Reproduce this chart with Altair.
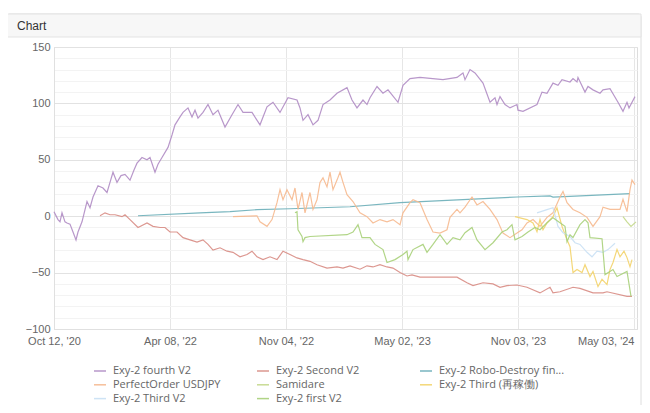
import json
import altair as alt
import pandas as pd

# ---------------- data ----------------
series_names = [
    "Exy-2 fourth V2", "Exy-2 Second V2", "Exy-2 Robo-Destroy fin...",
    "PerfectOrder USDJPY", "Samidare", "Exy-2 Third (再稼働)",
    "Exy-2 Third V2", "Exy-2 first V2",
]
series_colors = ["#b08cc4", "#d88c84", "#6aaeb8", "#f6b98f",
                 "#c3d88a", "#f3d36a", "#c9e0f4", "#a8d07a"]

x_tick_values = [0, 116, 232, 348, 464, 580]
x_tick_labels = ["Oct 12, '20", "Apr 08, '22", "Nov 04, '22",
                 "May 02, '23", "Nov 03, '23", "May 03, '24"]

fourth_x = [0, 4, 6, 8, 11, 13, 16, 19, 22, 24, 28, 33, 36, 39, 44, 49, 53, 56, 59, 63,
            67, 71, 76, 80, 83, 88, 93, 96, 101, 104, 108, 114, 118, 121, 126, 129, 134,
            138, 141, 144, 149, 154, 159, 164, 171, 178, 184, 189, 198, 206, 213, 219,
            226, 234, 243, 246, 249, 254, 259, 264, 269, 276, 283, 293, 298, 303, 309,
            313, 316, 323, 329, 334, 344, 349, 356, 366, 389, 403, 409, 411, 416, 421,
            429, 436, 441, 443, 446, 451, 456, 463, 464, 469, 483, 488, 493, 499, 504,
            508, 516, 519, 523, 524, 531, 534, 539, 546, 549, 556, 564, 569, 573, 575, 581]
fourth_y = [4, -3, -5, 3, -5, -6, -7, -14, -21, -14, -5, 13, 7.5, 17, 27, 25, 21, 30, 39, 30,
            36, 37, 32, 41, 47, 52, 50, 52, 39, 46, 52, 61, 72, 81, 88, 92, 96,
            88, 94, 87, 92, 99, 90, 94, 79, 90, 99, 92, 92, 81, 97, 101,
            92, 105, 103, 96, 85, 90, 81, 85, 99, 103, 109, 114, 103, 96, 103,
            99, 105, 115, 109, 112, 101, 116, 122, 123, 121, 123, 127, 121, 130, 127,
            118, 101, 105, 99, 106, 99, 96, 99, 94, 93, 99, 110, 109, 118, 116,
            121, 119, 122, 119, 123, 110, 115, 112, 109, 112, 113, 101, 93, 101, 96, 106]

second_x = [46, 51, 56, 61, 68, 71, 76, 84, 93, 99, 106, 111, 116, 123, 129, 136, 143, 149,
            154, 159, 166, 173, 179, 186, 193, 198, 203, 209, 216, 223, 229, 236, 243,
            249, 256, 263, 273, 283, 289, 296, 306, 313, 319, 326, 333, 339, 346, 353,
            358, 366, 403, 413, 419, 429, 439, 446, 453, 463, 473, 486, 496, 499, 506,
            519, 526, 539, 549, 553, 573, 578]
second_y = [0.4, 3, 1.3, 1.3, -0.4, 1.3, -3, -10, -6, -9, -10, -10, -14, -14, -19, -21, -23,
            -21, -25, -30, -28, -31, -32, -36, -34, -31, -36, -38.5, -36, -38.5, -31, -34,
            -37, -38.5, -40, -43, -46, -45, -46, -44, -47, -44, -45, -43, -45, -46, -50,
            -53, -52, -54, -54, -59, -61.5, -59, -60, -63, -61.5, -61, -63, -68, -63, -68,
            -67, -63, -64, -68, -68, -67, -71, -71]

robo_x = [84, 146, 176, 203, 236, 296, 346, 463, 496, 499, 576]
robo_y = [0.4, 3, 4, 5.8, 6.6, 8.4, 12, 17, 18, 17, 20]

perfect_x = [179, 203, 206, 213, 218, 223, 226, 229, 233, 238, 241, 244, 248, 251, 256, 259,
             263, 266, 269, 273, 276, 279, 283, 286, 289, 293, 299, 306, 313, 319, 326, 333,
             339, 346, 349, 356, 359, 366, 373, 379, 386, 393, 396, 403, 406, 411, 418, 423,
             429, 436, 443, 449, 456, 463, 468, 473, 479, 486, 493, 499, 506, 509, 513, 519,
             526, 533, 539, 546, 549, 556, 566, 569, 573, 576, 578, 581]
perfect_y = [-0.4, 0.4, -5, -9, -3, 12, 23.5, 14.6, 23.5, 14.6, 25, 6, 21, 3, 21, 6,
             14.6, 30, 34, 26, 39, 23.5, 32, 39, 30, 19, 13, 3, -0.4, -6, -3, -5,
             -3, -7.5, 3, 12, 14.6, 12, -3, -14, -15, -12, -1, 6, 3, 8, 17, 10,
             13, 6, -3, -15, -19, -15, -12, -6, -3, -9, -1, 3, 17, 22, 12, 6,
             3, -1, -9, -0.4, 8, 6, 6, 15, 4, 23.5, 32, 28]

samidare_x = [569, 573, 577, 582]
samidare_y = [-0.4, -5, -9, -5]

third_x = [461, 473, 479, 483, 486, 489, 493, 499, 503, 508, 513, 516, 519, 523, 528, 531,
           536, 539, 544, 548, 553, 556, 559, 563, 566, 570, 573, 576, 578]
third_y = [-0.4, -3, -6, -13.7, -3, -12, -6, -0.4, 7.5, -9, -20.8, -27, -50, -47.3, -50, -43,
           -53.5, -49, -62.4, -56, -60.6, -47.3, -41, -29.6, -36, -31, -36.7, -44.7, -38.5]

third_v2_x = [483, 493, 499, 504, 509, 516, 521, 526, 533, 538, 543, 549, 554, 561]
third_v2_y = [3, 5.8, 7.5, -9, -14.6, -18, -23.5, -25, -32, -36, -31, -32, -29.6, -24]

first_x = [241, 243, 244, 248, 249, 251, 256, 293, 299, 304, 308, 316, 321, 329, 333, 341,
           349, 353, 354, 359, 369, 373, 379, 386, 393, 399, 406, 411, 418, 423, 431, 439,
           448, 453, 458, 461, 468, 474, 481, 486, 493, 499, 506, 511, 513, 516, 519, 526,
           531, 534, 536, 548, 551, 559, 563, 573, 577]
first_y = [3, 4, -12, -18, -22.6, -19, -18, -16.4, -14, -7.5, -19, -19, -25, -29.6, -41, -38.5,
           -34, -31, -38.5, -29.6, -25, -32, -25, -16.4, -25, -19, -21, -14.6, -10, -21, -29.6,
           -23.5, -14, -12, -7.5, -21, -18, -14, -10, -12, -5.8, -1.3, -5.8, -9, -22.6, -16.4,
           -19, -7.5, -3, -5.8, -19, -20, -51.8, -47.3, -53.5, -49, -71]

series_xy = [
    (fourth_x, fourth_y), (second_x, second_y), (robo_x, robo_y),
    (perfect_x, perfect_y), (samidare_x, samidare_y), (third_x, third_y),
    (third_v2_x, third_v2_y), (first_x, first_y),
]

rows = []
for name, (xs, ys) in zip(series_names, series_xy):
    for xv, yv in zip(xs, ys):
        rows.append({"series": name, "idx": xv, "val": yv})
df = pd.DataFrame(rows)

# ---------------- chart ----------------
W, H = 583, 282
label_expr = "{}[indexof({}, datum.value)]".format(
    json.dumps(x_tick_labels, ensure_ascii=False), json.dumps(x_tick_values))

one = pd.DataFrame({"a": [0]})

card = alt.Chart(one).mark_rect(
    fillOpacity=0, stroke="#dedede", strokeWidth=1, cornerRadius=3
).encode(x=alt.value(-47), x2=alt.value(W + 4), y=alt.value(-33), y2=alt.value(H + 120))

header = alt.Chart(one).mark_rect(
    fill="#f7f7f7", stroke="#e3e3e3", strokeWidth=1
).encode(x=alt.value(-47), x2=alt.value(W + 4), y=alt.value(-33), y2=alt.value(-10))

header_text = alt.Chart(one).mark_text(
    text="Chart", align="left", baseline="middle", font="Liberation Sans",
    fontSize=12, color="#333333"
).encode(x=alt.value(-37), y=alt.value(-21))

lines = alt.Chart(df).mark_line(strokeWidth=1.2, opacity=0.9).encode(
    x=alt.X("idx:Q", scale=alt.Scale(domain=[0, W], nice=False, zero=False),
            axis=alt.Axis(values=x_tick_values, labelExpr=label_expr, title=None,
                          grid=True, gridColor="#e6e6e6", domainColor="#e0e0e0",
                          ticks=False, labelPadding=6, labelFontSize=11,
                          labelColor="#666666", labelFont="Liberation Sans",
                          labelAlign={"condition": {"test": "datum.value == 580", "value": "right"},
                                      "value": "center"},
                          labelOverlap=False)),
    y=alt.Y("val:Q", scale=alt.Scale(domain=[-100, 150], nice=False),
            axis=alt.Axis(values=list(range(-100, 151, 10)), title=None,
                          labelExpr="datum.value % 50 == 0 ? datum.label : ''",
                          gridColor={"condition": {"test": "datum.value % 50 == 0", "value": "#e2e2e2"},
                                     "value": "#f3f3f3"},
                          domainColor="#e0e0e0", ticks=False, labelPadding=4,
                          labelFontSize=11, labelColor="#666666",
                          labelFont="Liberation Sans", labelOverlap=False)),
    color=alt.Color("series:N",
                    scale=alt.Scale(domain=series_names, range=series_colors),
                    legend=alt.Legend(orient="none", legendX=39, legendY=317,
                                      direction="horizontal",
                                      columns=3, title=None, symbolType="stroke",
                                      symbolSize=144, symbolStrokeWidth=1.5,
                                      labelFont="Open Sans", labelFontSize=11,
                                      labelColor="#666666", labelLimit=135,
                                      labelOffset=6, columnPadding=15, rowPadding=1.8,
                                      gridAlign="all")),
)

chart = alt.layer(card, header, header_text, lines).properties(
    width=W, height=H,
    autosize=alt.AutoSizeParams(type="none"),
    padding={"left": 46, "top": 39, "right": 5, "bottom": 76},
).configure_view(stroke=None).configure(background="white")

chart.save("out.html", embed_options={"renderer": "svg", "actions": False})
